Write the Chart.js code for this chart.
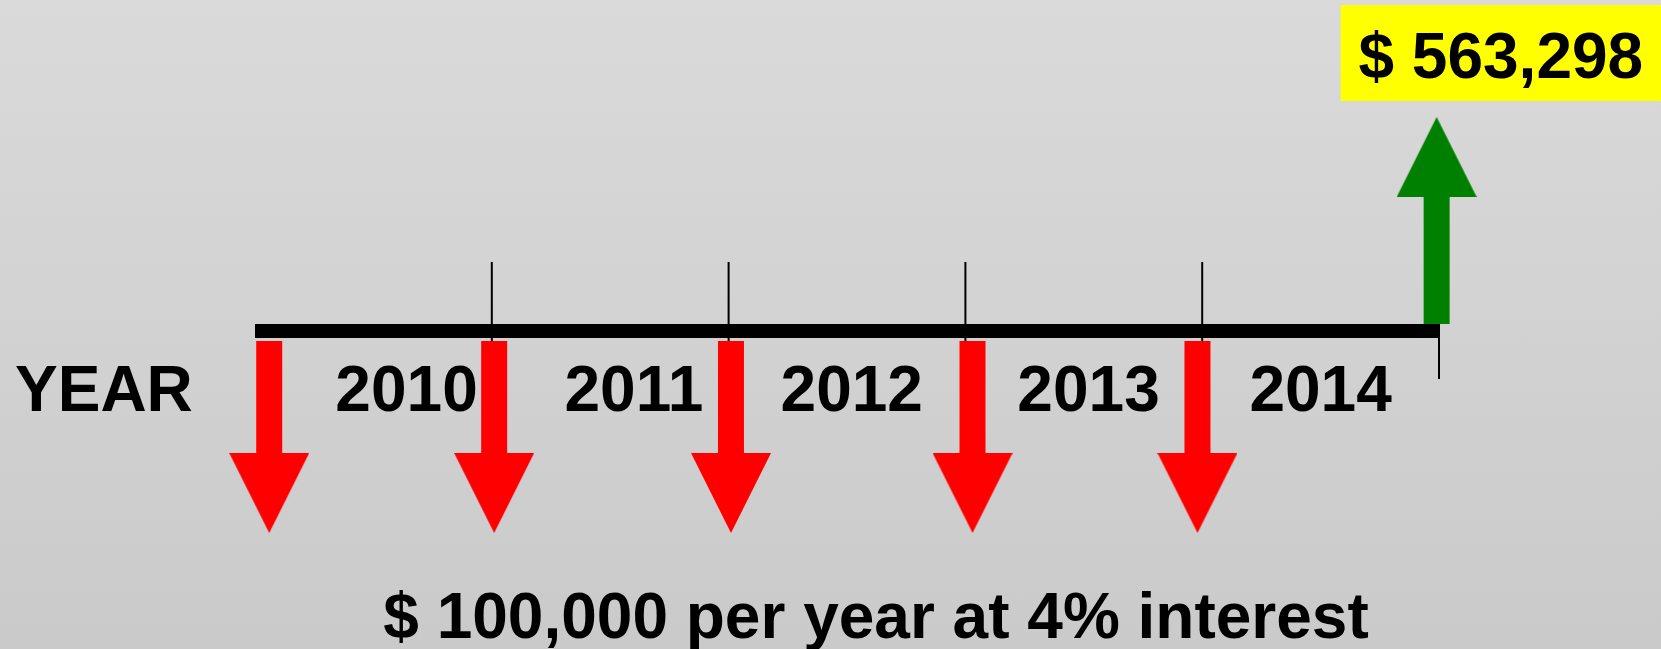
<!DOCTYPE html>
<html>
<head>
<meta charset="utf-8">
<title>Cash flow timeline</title>
<script src="https://cdn.jsdelivr.net/npm/chart.js@4.4.1/dist/chart.umd.min.js"></script>
<style>
    html, body { margin: 0; padding: 0; }
    body {
        width: 1661px;
        height: 649px;
        overflow: hidden;
        background: linear-gradient(to bottom, #dadada, #cacaca);
    }
    canvas { display: block; }
</style>
</head>
<body>
<canvas id="timeline" width="1661" height="649"></canvas>
<script>
// values
const years = ['2010', '2011', '2012', '2013', '2014'];
const yearLabelAt = [0.64, 1.60, 2.52, 3.52, 4.50];   // period where each year label sits
const tickPeriods = [1, 2, 3, 4, 5];
const payPeriods = [0.06, 1.01, 2.01, 3.03, 3.98];    // red arrows
const payments = [-100000, -100000, -100000, -100000, -100000];
const fvPeriods = [4.99];                             // green arrow
const fvValues = [563298];
const interestRate = 0.04;
const timelineStart = 0;
const timelineEnd = 5;

// look (schematic heights, not amounts)
const FONT = 'bold 64px "Liberation Sans", Arial, sans-serif';
const RED = '#ff0000';
const GREEN = '#008000';
const ARROW_DOWN = { from: -0.10, to: -1.23, head: -1.62 };
const ARROW_UP = { from: 0.07, to: 1.35, head: 1.74 };
const TICK = { top: 0.69, bottom: -0.48 };

function money(v) {
    return '$ ' + Math.abs(v).toLocaleString('en-US');
}

function triangle(color, up) {
    const c = document.createElement('canvas');
    c.width = 80;
    c.height = 80;
    const g = c.getContext('2d');
    g.fillStyle = color;
    g.beginPath();
    if (up) {
        g.moveTo(40, 0); g.lineTo(80, 80); g.lineTo(0, 80);
    } else {
        g.moveTo(0, 0); g.lineTo(80, 0); g.lineTo(40, 80);
    }
    g.closePath();
    g.fill();
    return c;
}

function geom(v) {
    return v < 0 ? ARROW_DOWN : ARROW_UP;
}

function shaftData(periods, values) {
    return periods.map((t, i) => ({ x: t, y: [geom(values[i]).from, geom(values[i]).to] }));
}

function headData(periods, values) {
    return periods.map((t, i) => ({ x: t, y: geom(values[i]).head }));
}

const tickData = [];
tickPeriods.forEach(t => {
    tickData.push({ x: t, y: TICK.top }, { x: t, y: TICK.bottom }, { x: t, y: null });
});

const textPlugin = {
    id: 'texts',
    afterDatasetsDraw(chart) {
        const ctx = chart.ctx;
        const xs = chart.scales.x;
        const ys = chart.scales.y;
        ctx.save();
        ctx.font = FONT;
        ctx.fillStyle = '#000';
        ctx.textBaseline = 'alphabetic';

        const yearBase = ys.getPixelForValue(-0.80);
        ctx.textAlign = 'left';
        ctx.fillText('YEAR', 15, yearBase);
        ctx.textAlign = 'center';
        years.forEach((y, i) => ctx.fillText(y, xs.getPixelForValue(yearLabelAt[i]), yearBase));

        const caption = money(payments[0]) + ' per year at ' + Math.round(interestRate * 100) + '% interest';
        ctx.fillText(caption, 876, ys.getPixelForValue(-3.07));

        // value box above the green arrow
        const top = ys.getPixelForValue(3.26);
        const bottom = ys.getPixelForValue(2.30);
        const left = xs.getPixelForValue(fvPeriods[0]) - 96;
        const right = chart.width;
        ctx.fillStyle = '#ffff00';
        ctx.fillRect(left, top, right - left, bottom - top);
        ctx.fillStyle = '#000';
        ctx.fillText(money(fvValues[0]), (left + right) / 2, ys.getPixelForValue(2.53));
        ctx.restore();
    }
};

new Chart(document.getElementById('timeline'), {
    type: 'scatter',
    data: {
        datasets: [
            {
                type: 'line',
                data: [{ x: timelineStart, y: 0 }, { x: timelineEnd, y: 0 }],
                borderColor: '#000',
                borderWidth: 14,
                borderCapStyle: 'butt',
                pointRadius: 0,
                order: 6
            },
            {
                type: 'line',
                data: tickData,
                borderColor: '#000',
                borderWidth: 2,
                borderCapStyle: 'butt',
                spanGaps: false,
                pointRadius: 0,
                order: 7
            },
            {
                type: 'bar',
                data: shaftData(payPeriods, payments),
                backgroundColor: RED,
                grouped: false,
                maxBarThickness: 26,
                borderWidth: 0,
                order: 3
            },
            {
                type: 'bar',
                data: shaftData(fvPeriods, fvValues),
                backgroundColor: GREEN,
                grouped: false,
                maxBarThickness: 26,
                borderWidth: 0,
                order: 3
            },
            {
                type: 'scatter',
                data: headData(payPeriods, payments),
                pointStyle: triangle(RED, false),
                pointRadius: 1,
                order: 1
            },
            {
                type: 'scatter',
                data: headData(fvPeriods, fvValues),
                pointStyle: triangle(GREEN, true),
                pointRadius: 1,
                order: 1
            }
        ]
    },
    options: {
        responsive: false,
        animation: false,
        events: [],
        devicePixelRatio: 1,
        layout: { padding: 0, autoPadding: false },
        plugins: { legend: { display: false }, tooltip: { enabled: false } },
        scales: {
            x: { type: 'linear', min: -1.0769, max: 5.9375, offset: false, display: false },
            y: { type: 'linear', min: -3.18, max: 3.31, offset: false, display: false }
        }
    },
    plugins: [textPlugin]
});
</script>
</body>
</html>
